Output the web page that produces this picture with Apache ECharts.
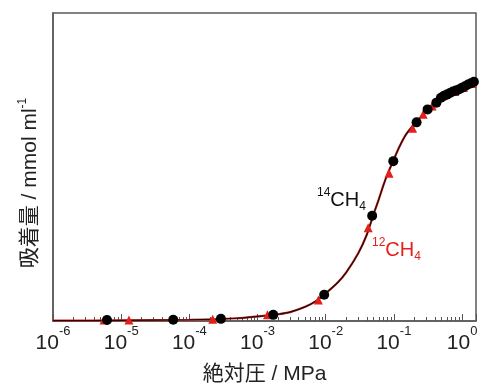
<!DOCTYPE html>
<html>
<head>
<meta charset="utf-8">
<script src="https://cdn.jsdelivr.net/npm/echarts@6/dist/echarts.min.js"></script>
<style>
html,body{margin:0;padding:0;background:#fff;}
#chart{width:481px;height:383px;}
</style>
</head>
<body>
<div id="chart"></div>
<script>
// ---- data (y axis is unlabeled, relative units) ----
var xTickExponents = [-6, -5, -4, -3, -2, -1, 0];
var xMin = 1e-6;
var xMax = 1.6;

var fitPressure = [1e-6, 1e-5, 1e-4, 5e-4, 1e-3, 2e-3, 3e-3, 5e-3, 7e-3, 1e-2, 1.5e-2, 2e-2, 3e-2, 4e-2, 5e-2, 6e-2, 7e-2, 8e-2, 0.1, 0.12, 0.15, 0.2, 0.25, 0.3, 0.4, 0.5, 0.7, 1.0, 1.3, 1.6];
var fitUptake   = [0.001, 0.002, 0.004, 0.009, 0.015, 0.022, 0.029, 0.046, 0.063, 0.09, 0.125, 0.158, 0.22, 0.28, 0.345, 0.395, 0.44, 0.475, 0.525, 0.565, 0.605, 0.64, 0.663, 0.68, 0.705, 0.722, 0.742, 0.758, 0.77, 0.78];

var ch14Pressure = [6.2e-6, 5.8e-5, 2.9e-4, 1.7e-3, 9.5e-3, 0.048, 0.098, 0.215, 0.312, 0.42, 0.489, 0.541, 0.598, 0.663, 0.733, 0.811, 0.897, 0.993, 1.10, 1.22, 1.35, 1.49];
var ch14Uptake   = [0.003, 0.004, 0.007, 0.02, 0.085, 0.342, 0.519, 0.645, 0.687, 0.709, 0.725, 0.731, 0.735, 0.740, 0.745, 0.748, 0.752, 0.757, 0.762, 0.768, 0.772, 0.777];

var ch12Pressure = [5.6e-6, 1.3e-5, 2.2e-4, 1.4e-3, 7.8e-3, 0.042, 0.085, 0.188, 0.269, 0.364, 0.56, 0.78, 1.05, 1.4];
var ch12Uptake   = [0.003, 0.003, 0.006, 0.02, 0.068, 0.303, 0.48, 0.626, 0.671, 0.698, 0.735, 0.745, 0.758, 0.771];

var label14 = ['14', 'CH', '4'];
var label12 = ['12', 'CH', '4'];

function pairs(xs, ys) { return xs.map(function (x, i) { return [x, ys[i]]; }); }

var RED = '#e3211c';
var FONT = "'Liberation Sans', Arial, sans-serif";
var MIX = "'Liberation Sans', 'Noto Sans CJK JP', sans-serif";

var chart = echarts.init(document.getElementById('chart'), null, {renderer: 'canvas'});
chart.setOption({
  animation: false,
  backgroundColor: '#fff',
  grid: {left: 53, right: 5, top: 13, bottom: 62, show: true, borderColor: '#5a5a5a', borderWidth: 1.5,
         containLabel: false, outerBoundsMode: 'none'},
  xAxis: {
    type: 'log', min: xMin, max: xMax, logBase: 10, splitNumber: 6,
    axisLine: {show: true, onZero: false, lineStyle: {color: '#5a5a5a', width: 1.5}},
    axisTick: {show: true, inside: true, length: 7, lineStyle: {color: '#555', width: 1}},
    minorTick: {show: true, splitNumber: 9, length: 4, lineStyle: {color: '#555', width: 1}},
    splitLine: {show: false}, minorSplitLine: {show: false},
    axisLabel: {
      margin: 4, color: '#222', showMinLabel: true, showMaxLabel: true, hideOverlap: false,
      formatter: function (v) {
        var e = Math.log10(v);
        var r = Math.round(e);
        if (Math.abs(e - r) > 1e-6 || xTickExponents.indexOf(r) < 0) return '';
        return '{b|10}{s|' + r + '}';
      },
      rich: {
        b: {fontFamily: FONT, fontSize: 21, color: '#222', lineHeight: 29, verticalAlign: 'bottom'},
        s: {fontFamily: FONT, fontSize: 13, color: '#222', lineHeight: 14, verticalAlign: 'top'}
      }
    },
    name: '絶対圧 / MPa', nameLocation: 'middle', nameGap: 43,
    nameTextStyle: {fontFamily: MIX, fontSize: 21, color: '#222'}
  },
  yAxis: {
    type: 'value', min: 0, max: 1,
    axisLine: {show: true, lineStyle: {color: '#5a5a5a', width: 1.5}},
    axisTick: {show: false}, axisLabel: {show: false}, splitLine: {show: false}
  },
  graphic: [
    {type: 'text', x: 29, y: 183, rotation: Math.PI / 2,
     style: {text: '{a|吸着量 / mmol ml}{s|-1}', align: 'center', verticalAlign: 'middle',
       rich: {a: {fontFamily: MIX, fontSize: 21, fill: '#222', lineHeight: 24, verticalAlign: 'bottom'},
              s: {fontFamily: FONT, fontSize: 12, fill: '#222', lineHeight: 14, verticalAlign: 'top'}}}},
    {type: 'text', x: 317, y: 187,
     style: {text: '{s|' + label14[0] + '}{b|' + label14[1] + '}{d|' + label14[2] + '}',
       rich: {s: {fontFamily: FONT, fontSize: 12, fill: '#111', lineHeight: 26, verticalAlign: 'top'},
              b: {fontFamily: FONT, fontSize: 20, fill: '#111', lineHeight: 22, verticalAlign: 'middle'},
              d: {fontFamily: FONT, fontSize: 12, fill: '#111', lineHeight: 26, verticalAlign: 'bottom'}}}},
    {type: 'text', x: 372, y: 237,
     style: {text: '{s|' + label12[0] + '}{b|' + label12[1] + '}{d|' + label12[2] + '}',
       rich: {s: {fontFamily: FONT, fontSize: 12, fill: RED, lineHeight: 26, verticalAlign: 'top'},
              b: {fontFamily: FONT, fontSize: 20, fill: RED, lineHeight: 22, verticalAlign: 'middle'},
              d: {fontFamily: FONT, fontSize: 12, fill: RED, lineHeight: 26, verticalAlign: 'bottom'}}}}
  ],
  series: [
    {type: 'line', data: pairs(fitPressure, fitUptake), smooth: 0.3, showSymbol: false, symbol: 'none',
     lineStyle: {color: RED, width: 2.2}, z: 2},
    {type: 'line', data: pairs(fitPressure, fitUptake), smooth: 0.3, showSymbol: false, symbol: 'none',
     lineStyle: {color: '#111', width: 1.2}, z: 3},
    {type: 'scatter', data: pairs(ch12Pressure, ch12Uptake), symbol: 'triangle', symbolSize: 9,
     itemStyle: {color: RED, opacity: 1}, z: 4},
    {type: 'scatter', data: pairs(ch14Pressure, ch14Uptake), symbol: 'circle', symbolSize: 10,
     itemStyle: {color: '#000', opacity: 1}, z: 5}
  ]
});
</script>
</body>
</html>
